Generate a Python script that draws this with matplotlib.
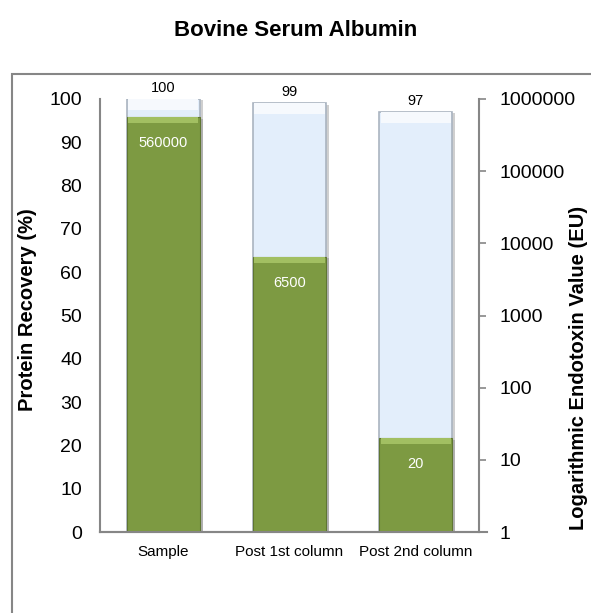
import numpy as np
import matplotlib
matplotlib.use('Agg')
import matplotlib.pyplot as plt
import matplotlib.patheffects as pe
from matplotlib.patches import Rectangle

plt.rcParams['font.family'] = ['Liberation Sans', 'DejaVu Sans']

# Data
categories = ['Sample', 'Post 1st column', 'Post 2nd column']
recovery = [100, 99, 97]              # protein recovery, %
endotoxin = [560000, 6500, 20]        # endotoxin, EU (log axis)

grey = '#868686'
blue_fill = '#e3eefb'
blue_edge = '#aab4c0'
green_fill = '#7d9a42'
green_top = '#a2bf62'

fig = plt.figure(figsize=(5.91, 6.13), dpi=100)
ax = fig.add_axes([0.1692, 0.1321, 0.6413, 0.7064])
ax2 = ax.twinx()

x = np.arange(len(categories))
w = 0.58
shadow = [pe.SimplePatchShadow(offset=(2, -1), alpha=0.35, shadow_rgbFace='#777777'), pe.Normal()]

# protein recovery bars (light blue, behind)
bars = ax.bar(x, recovery, width=w, color=blue_fill, edgecolor=blue_edge, linewidth=1.2, zorder=2)
for b in bars:
    b.set_path_effects(shadow)
ax.bar(x, [2.5] * len(x), bottom=np.array(recovery) - 2.5, width=w * 0.96,
       color='#f6f9fd', linewidth=0, zorder=3)
for xi, v in zip(x, recovery):
    ax.text(xi, v + 1.0, str(v), ha='center', va='bottom', fontsize=10.5, color='black')

# endotoxin bars (green, in front)
ends = np.array(endotoxin, dtype=float)
gb = ax2.bar(x, ends - 1, bottom=1, width=w, color=green_fill, edgecolor='#5f7632', linewidth=0.8, zorder=2)
for b in gb:
    b.set_path_effects(shadow)
ax2.bar(x, ends - ends / 1.22, bottom=ends / 1.22, width=w * 0.96, color=green_top, linewidth=0, zorder=3)
for xi, v in zip(x, endotoxin):
    ax2.text(xi, v / 2.3, str(v), ha='center', va='center', fontsize=10.5, color='white', zorder=4)

# left axis
ax.set_xlim(-0.5, 2.5)
ax.set_ylim(0, 100)
ax.set_yticks(range(0, 101, 10))
ax.tick_params(axis='y', length=0, pad=13, labelsize=14)
ax.tick_params(axis='x', length=0, pad=9, labelsize=11)
ax.set_xticks(x)
ax.set_xticklabels(categories)
ax.set_ylabel('Protein Recovery (%)', fontsize=14.5, fontweight='bold')
ax.yaxis.set_label_coords(-0.166, 0.513)

# right axis
ax2.set_yscale('log')
ax2.set_ylim(1, 1e6)
ticks = [1, 10, 100, 1000, 10000, 100000, 1000000]
ax2.set_yticks(ticks)
ax2.set_yticklabels([str(t) for t in ticks])
ax2.yaxis.set_minor_locator(matplotlib.ticker.NullLocator())
ax2.tick_params(axis='y', length=5, width=1.2, color=grey, pad=10, labelsize=14)
ax2.set_ylabel('Logarithmic Endotoxin Value (EU)', fontsize=14.5, fontweight='bold')
ax2.yaxis.set_label_coords(1.238, 0.379)

for a in (ax, ax2):
    a.spines['top'].set_visible(False)
    for s in ('left', 'bottom', 'right'):
        a.spines[s].set_color(grey)
        a.spines[s].set_linewidth(1.5)
ax.spines['right'].set_visible(False)
ax2.spines['left'].set_visible(False)
ax2.spines['bottom'].set_bounds(-0.5, 2.56)

fig.text(0.5, 0.951, 'Bovine Serum Albumin', ha='center', va='center',
         fontsize=16, fontweight='bold')

# chart area border
fig.add_artist(Rectangle((0.0203, -0.2), 1.2, 1.079, transform=fig.transFigure,
                         fill=False, edgecolor=grey, linewidth=1.5, clip_on=False))

fig.savefig('out.png', dpi=100)
